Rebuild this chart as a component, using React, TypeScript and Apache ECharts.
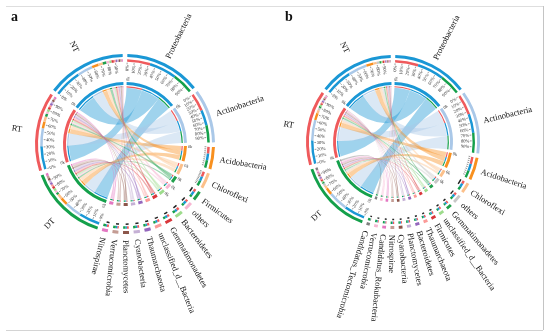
import React, { useEffect, useRef } from "react";
import * as echarts from "echarts";

const sampleNames = ["NT", "RT", "DT"];
const sampleColors = ["#1a97d5", "#ef5a5c", "#14a04b"];
const pctLabels = ["0%", "10%", "20%", "30%", "40%", "50%", "60%", "70%", "80%", "90%"];

// Panel a
const phylaA = [
  "Proteobacteria", "Actinobacteria", "Acidobacteria", "Chloroflexi", "Firmicutes", "others",
  "Bacteroidetes", "Gemmatimonadetes", "unclassified_d__Bacteria", "Thaumarchaeota",
  "Cyanobacteria", "Planctomycetes", "Verrucomicrobia", "Nitrospirae",
];
const colorsA = [
  "#1a97d5", "#aac8e8", "#f8901f", "#fcc08a", "#22a04c", "#f7b6d2", "#9ddc8c",
  "#d9363a", "#fb9a98", "#9467bd", "#c5b0d5", "#8c564b", "#c49c94", "#e377c2",
];
const ntA = [37, 21, 9, 6, 5, 4, 3, 3, 2.5, 2, 2, 2, 2, 1.5];
const rtA = [31, 24, 9, 7, 4, 3, 3.5, 3, 3, 3, 2.5, 2.5, 2, 2.5];
const dtA = [28, 23, 10, 7, 3, 3, 3.5, 3, 3, 3, 3.5, 3, 3.5, 3.5];

// Panel b
const phylaB = [
  "Proteobacteria", "Actinobacteria", "Acidobacteria", "Chloroflexi", "others", "Gemmatimonadetes",
  "unclassified_d__Bacteria", "Firmicutes", "Thaumarchaeota", "Bacteroidetes", "Planctomycetes",
  "Cyanobacteria", "Nitrospirae", "Candidatus_Rokubacteria", "Verrucomicrobia", "Candidatus_Tectomicrobia",
];
const colorsB = [
  "#1a97d5", "#aac8e8", "#f8901f", "#fcc08a", "#c7c7c7", "#22a04c", "#9ddc8c", "#d9363a",
  "#fb9a98", "#9467bd", "#c5b0d5", "#8c564b", "#c49c94", "#e377c2", "#f7b6d2", "#7f7f7f",
];
const ntB = [38, 27, 10, 5, 4, 2.5, 2, 2, 1.5, 1.5, 1.5, 1.5, 1, 1, 1, 0.5];
const rtB = [33, 29, 10, 4.5, 3.5, 2.5, 2.5, 2, 2, 2, 2, 1.5, 2, 1.5, 1.5, 0.5];
const dtB = [29.5, 28, 10, 4.5, 3.5, 2, 2, 2, 2, 2, 2, 2, 2, 2.5, 2.5, 3.5];

// order of samples inside each phylum sector (indices into sampleNames)
const phylumSampleOrder = [1, 0, 2];

const FONT = '"Liberation Serif", "Times New Roman", serif';

type Mark = any;

const sum = (a: number[]) => a.reduce((s, v) => s + v, 0);

function layout(phyla: string[], colors: string[], nt: number[], rt: number[], dt: number[], gapDeg: number) {
  const mat = [nt, rt, dt];
  const n = phyla.length + 3;
  const dataTotal = 2 * (sum(nt) + sum(rt) + sum(dt));
  const g = (gapDeg * dataTotal) / (360 - gapDeg * n);
  const total = dataTotal + g * n;
  const secs: any[] = [];
  let pos = g / 2;
  phyla.forEach((name, j) => {
    const w = nt[j] + rt[j] + dt[j];
    const parts = phylumSampleOrder.map((i) => ({ i, v: mat[i][j], color: sampleColors[i] }));
    secs.push({ name, color: colors[j], start: pos, w, sample: false, j, parts });
    pos += w + g;
  });
  [2, 1, 0].forEach((i) => {
    const w = sum(mat[i]);
    secs.push({ name: sampleNames[i], color: sampleColors[i], start: pos, w, sample: true, i, parts: mat[i].map((v, j) => ({ v, color: colors[j] })) });
    pos += w + g;
  });
  const marks: Mark[] = [];
  const phySec = (j: number) => secs.find((s) => !s.sample && s.j === j);
  const samSec = (i: number) => secs.find((s) => s.sample && s.i === i);
  // ribbons
  phyla.forEach((_, j) => {
    const ps = phySec(j);
    let pOff = ps.start;
    phylumSampleOrder.forEach((i) => {
      const ss = samSec(i);
      const sOff = ss.start + sum(mat[i].slice(0, j));
      const v = mat[i][j];
      marks.push({ kind: "ribbon", a1: sOff, a2: sOff + v, b1: pOff, b2: pOff + v, r: 56.2, color: colors[j] });
      pOff += v;
    });
  });
  secs.forEach((s) => {
    const deg = (s.w / total) * 360;
    const a1 = s.start, a2 = s.start + s.w;
    marks.push({ kind: "arc", a1, a2, r0: 87, r1: 90, color: s.color });
    let acc = a1;
    s.parts.forEach((p: any) => {
      marks.push({ kind: "arc", a1: acc, a2: acc + p.v, r0: 82.3, r1: 84.8, color: p.color });
      marks.push({ kind: "arc", a1: acc, a2: acc + p.v, r0: 56.6, r1: 57.8, color: p.color });
      acc += p.v;
    });
    marks.push({ kind: "arc", a1, a2, r0: 59, r1: 62, color: s.color });
    if (deg >= 20) {
      pctLabels.forEach((t, k) => {
        const a = a1 + (s.w * k) / 10;
        marks.push({ kind: "line", a, r0: 79.6, r1: 81.4 });
        marks.push({ kind: "text", a, r: 79, text: t, size: 4.6, dir: "in", nice: true, color: "#333" });
      });
    } else if (deg >= 8) {
      for (let k = 0; k < 10; k++) marks.push({ kind: "line", a: a1 + (s.w * k) / 10, r0: 79.6, r1: 81.4 });
    } else {
      marks.push({ kind: "arc", a1, a2: a1 + s.w * 0.55, r0: 79.4, r1: 80.9, color: "#222" });
    }
    if (deg >= 5) {
      marks.push({ kind: "text", a: a1 + s.w * 0.02, r: 63, text: "0k", size: 4.4, dir: "out", nice: true, color: "#333" });
    }
    if (s.sample) {
      marks.push({ kind: "text", a: a1 + s.w / 2, r: 104, text: s.name, size: 8.5, dir: "out", nice: true, color: "#111" });
    } else {
      marks.push({ kind: "text", a: a1 + s.w / 2, r: 96, text: s.name, size: 8.5, dir: "out", nice: false, color: "#111" });
    }
  });
  return { marks, total };
}

function makeRender(marks: Mark[]) {
  return (params: any, api: any) => {
    const m = marks[params.dataIndex];
    const cs = params.coordSys;
    const cx = cs.cx, cy = cs.cy;
    const pt = (r: number, a: number) => api.coord([r, a]);
    const phi = (a: number) => {
      const p = pt(90, a);
      return Math.atan2(p[1] - cy, p[0] - cx);
    };
    const rad = (r: number) => {
      const p = pt(r, 0);
      return Math.hypot(p[0] - cx, p[1] - cy);
    };
    const spanOf = (a1: number, a2: number) => {
      const f1 = phi(a1);
      let d = phi(a2) - f1;
      while (d < 0) d += Math.PI * 2;
      if (a2 - a1 < 1e-9) d = 0;
      return [f1, f1 + d];
    };
    if (m.kind === "arc") {
      const [f1, f2] = spanOf(m.a1, m.a2);
      return {
        type: "sector",
        shape: { cx, cy, r0: rad(m.r0), r: rad(m.r1), startAngle: f1, endAngle: f2, clockwise: true },
        style: { fill: m.color },
      };
    }
    if (m.kind === "ribbon") {
      const R = rad(m.r);
      const [fa1, fa2] = spanOf(m.a1, m.a2);
      const [fb1, fb2] = spanOf(m.b1, m.b2);
      const P = (f: number) => [cx + R * Math.cos(f), cy + R * Math.sin(f)];
      const A1 = P(fa1), A2 = P(fa2), B1 = P(fb1), B2 = P(fb2);
      const la = fa2 - fa1 > Math.PI ? 1 : 0;
      const lb = fb2 - fb1 > Math.PI ? 1 : 0;
      const d =
        `M${A1[0]} ${A1[1]} A${R} ${R} 0 ${la} 1 ${A2[0]} ${A2[1]} ` +
        `Q${cx} ${cy} ${B1[0]} ${B1[1]} A${R} ${R} 0 ${lb} 1 ${B2[0]} ${B2[1]} ` +
        `Q${cx} ${cy} ${A1[0]} ${A1[1]} Z`;
      return { type: "path", shape: { pathData: d }, style: { fill: m.color, opacity: 0.42 } };
    }
    if (m.kind === "line") {
      const f = phi(m.a);
      const r0 = rad(m.r0), r1 = rad(m.r1);
      return {
        type: "line",
        shape: { x1: cx + r0 * Math.cos(f), y1: cy + r0 * Math.sin(f), x2: cx + r1 * Math.cos(f), y2: cy + r1 * Math.sin(f) },
        style: { stroke: "#333", lineWidth: 0.5 },
      };
    }
    if (m.kind === "text") {
      const f = phi(m.a);
      const r = rad(m.r);
      const flip = m.nice && Math.cos(f) < -1e-6;
      let rotation = -f;
      let align: string;
      if (flip) {
        rotation += Math.PI;
        align = m.dir === "out" ? "right" : "left";
      } else {
        align = m.dir === "out" ? "left" : "right";
      }
      return {
        type: "text",
        x: cx + r * Math.cos(f),
        y: cy + r * Math.sin(f),
        rotation,
        style: { text: m.text, fontSize: m.size, fontFamily: FONT, fill: m.color, align, verticalAlign: "middle" },
      };
    }
    return null;
  };
}

export default function App() {
  const ref = useRef<HTMLDivElement>(null);
  useEffect(() => {
    if (!ref.current) return;
    const chart = echarts.init(ref.current, null, { renderer: "svg" });
    const A = layout(phylaA, colorsA, ntA, rtA, dtA, 3);
    const B = layout(phylaB, colorsB, ntB, rtB, dtB, 3);
    chart.setOption({
      animation: false,
      polar: [
        { center: [125, 144], radius: 90 },
        { center: [393, 142], radius: 87 },
      ],
      angleAxis: [
        { polarIndex: 0, type: "value", min: 0, max: A.total, startAngle: 90, clockwise: true, show: false },
        { polarIndex: 1, type: "value", min: 0, max: B.total, startAngle: 90, clockwise: true, show: false },
      ],
      radiusAxis: [
        { polarIndex: 0, type: "value", min: 0, max: 90, show: false },
        { polarIndex: 1, type: "value", min: 0, max: 90, show: false },
      ],
      series: [
        { type: "custom", coordinateSystem: "polar", polarIndex: 0, silent: true, clip: false, data: A.marks.map((_, i) => [0, i]), renderItem: makeRender(A.marks) },
        { type: "custom", coordinateSystem: "polar", polarIndex: 1, silent: true, clip: false, data: B.marks.map((_, i) => [0, i]), renderItem: makeRender(B.marks) },
      ],
      graphic: [
        { type: "line", shape: { x1: 6, y1: 6.5, x2: 543, y2: 6.5 }, style: { stroke: "#dedede", lineWidth: 1 } },
        { type: "line", shape: { x1: 543.5, y1: 6, x2: 543.5, y2: 330 }, style: { stroke: "#c4c4c4", lineWidth: 1 } },
        { type: "line", shape: { x1: 6, y1: 330.5, x2: 543, y2: 330.5 }, style: { stroke: "#d4d4d4", lineWidth: 1 } },
        { type: "text", left: 11, top: 9, style: { text: "a", fontSize: 14, fontFamily: FONT, fontWeight: "bold", fill: "#111" } },
        { type: "text", left: 285, top: 9, style: { text: "b", fontSize: 14, fontFamily: FONT, fontWeight: "bold", fill: "#111" } },
      ],
    });
    return () => chart.dispose();
  }, []);
  return <div ref={ref} style={{ position: "fixed", left: 0, top: 0, width: 550, height: 336 }} />;
}
